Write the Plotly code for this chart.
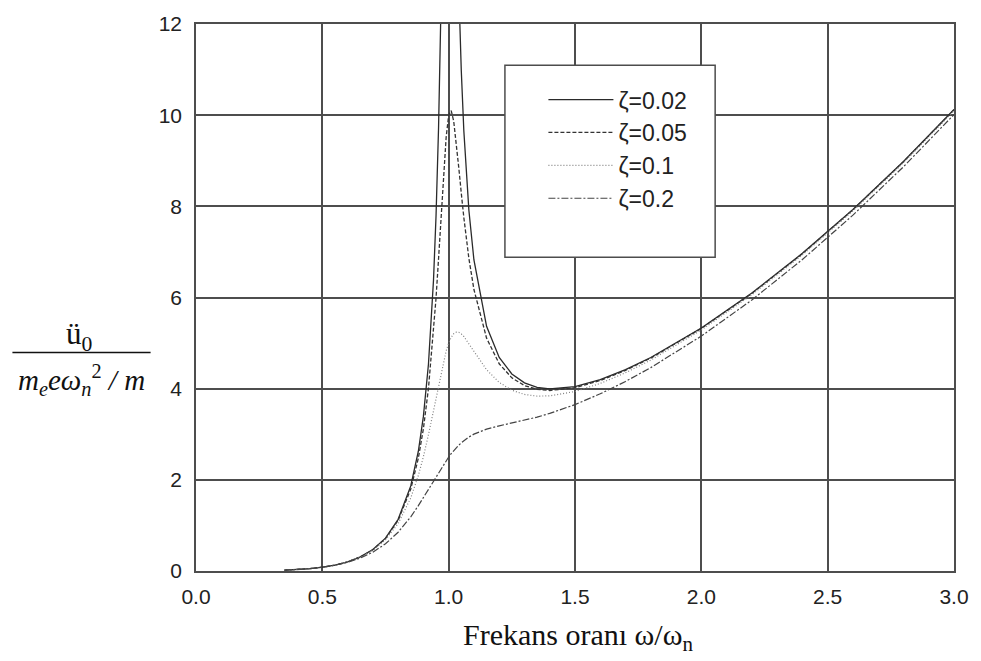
import plotly.graph_objects as go

# frequency ratio samples (x)
r_vals = [0.35, 0.40, 0.45, 0.50, 0.55, 0.60, 0.65, 0.70, 0.75, 0.80, 0.85, 0.88, 0.90,
          0.92, 0.94, 0.95, 0.96, 0.97, 0.98, 0.99, 1.00, 1.01, 1.02, 1.03, 1.04, 1.05,
          1.06, 1.08, 1.10, 1.15, 1.20, 1.25, 1.30, 1.35, 1.40, 1.50, 1.60, 1.70, 1.80,
          2.00, 2.20, 2.40, 2.60, 2.80, 3.00]

y_z002 = [0.0171, 0.0305, 0.0514, 0.0833, 0.1311, 0.2024, 0.3088, 0.4700, 0.7215, 1.133, 1.867, 2.627, 3.392,
          4.537, 6.383, 7.787, 9.729, 12.52, 16.55, 21.67, 25.0, 23.06, 18.85, 15.31, 12.77, 10.97,
          9.660, 7.914, 6.823, 5.369, 4.685, 4.323, 4.127, 4.030, 3.995, 4.045, 4.197, 4.416, 4.684,
          5.331, 6.099, 6.969, 7.932, 8.985, 10.124]

y_z005 = [0.0171, 0.0304, 0.0513, 0.0831, 0.1308, 0.2016, 0.3072, 0.4664, 0.7128, 1.111, 1.799, 2.476, 3.121,
          4.002, 5.218, 5.984, 6.855, 7.793, 8.727, 9.511, 10.0, 10.10, 9.867, 9.403, 8.850, 8.286,
          7.755, 6.857, 6.175, 5.108, 4.546, 4.237, 4.068, 3.985, 3.960, 4.021, 4.179, 4.401, 4.671,
          5.321, 6.090, 6.961, 7.926, 8.979, 10.118]

y_z01 = [0.0171, 0.0303, 0.0511, 0.0826, 0.1296, 0.1990, 0.3016, 0.4540, 0.6841, 1.040, 1.604, 2.096, 2.507,
         2.989, 3.531, 3.813, 4.095, 4.365, 4.612, 4.827, 5.0, 5.126, 5.204, 5.240, 5.237, 5.201,
         5.145, 4.989, 4.814, 4.415, 4.137, 3.966, 3.873, 3.837, 3.842, 3.938, 4.115, 4.349, 4.627,
         5.287, 6.061, 6.935, 7.901, 8.956, 10.097]

y_z02 = [0.0169, 0.0299, 0.0501, 0.0805, 0.1251, 0.1896, 0.2819, 0.4127, 0.5964, 0.8503, 1.189, 1.434, 1.612,
         1.797, 1.984, 2.076, 2.167, 2.256, 2.341, 2.423, 2.5, 2.573, 2.640, 2.702, 2.760, 2.812,
         2.858, 2.939, 3.003, 3.113, 3.184, 3.244, 3.306, 3.376, 3.457, 3.651, 3.887, 4.158, 4.462,
         5.153, 5.946, 6.833, 7.807, 8.868, 10.013]

series_names = ["ζ=0.02", "ζ=0.05", "ζ=0.1", "ζ=0.2"]
series_vals = [y_z002, y_z005, y_z01, y_z02]
x_ticks = [0.0, 0.5, 1.0, 1.5, 2.0, 2.5, 3.0]
x_tick_labels = ["0.0", "0.5", "1.0", "1.5", "2.0", "2.5", "3.0"]
y_ticks = [0, 2, 4, 6, 8, 10, 12]
y_tick_labels = ["0", "2", "4", "6", "8", "10", "12"]

styles = [
    dict(color="#2a2a2a", width=1.3, dash="solid"),
    dict(color="#333333", width=1.3, dash="4px,2px"),
    dict(color="#808080", width=1.2, dash="1px,2px"),
    dict(color="#444444", width=1.2, dash="7px,2px,2px,2px"),
]

fig = go.Figure()
for name, vals, st in zip(series_names, series_vals, styles):
    fig.add_trace(go.Scatter(x=r_vals, y=vals, mode="lines", name=name, line=st,
                             legendgroup=name))

W, H = 981, 661
L, R, T, B = 196, 17, 15, 90
pw, ph = W - L - R, H - T - B

def px_x(p):
    return (p - L) / pw

def px_y(p):
    return (H - B - p) / ph

grid = "#4d4d4d"
fig.update_layout(
    width=W, height=H,
    margin=dict(l=L, r=R, t=T, b=B),
    paper_bgcolor="white", plot_bgcolor="white",
    font=dict(family="Liberation Sans, Arial, sans-serif", size=21, color="#222222"),
    xaxis=dict(range=[0, 3], tickvals=x_ticks, ticktext=x_tick_labels,
               showgrid=True, gridcolor=grid, gridwidth=1.5,
               showline=True, linecolor=grid, linewidth=1.5, mirror=True,
               zeroline=False, ticks="", ticklabelstandoff=6,
               tickfont=dict(size=21)),
    yaxis=dict(range=[0, 12], tickvals=y_ticks, ticktext=y_tick_labels,
               showgrid=True, gridcolor=grid, gridwidth=1.5,
               showline=True, linecolor=grid, linewidth=1.5, mirror=True,
               zeroline=False, ticks="", ticklabelstandoff=8,
               tickfont=dict(size=21)),
    legend=dict(x=px_x(548), y=px_y(70), xanchor="left", yanchor="top",
                bgcolor="rgba(0,0,0,0)", borderwidth=0,
                font=dict(size=23, color="#222222"),
                itemwidth=65, traceorder="grouped", tracegroupgap=0),
    showlegend=True,
)

# legend frame (white box over the grid)
fig.add_shape(type="rect", xref="paper", yref="paper",
              x0=px_x(509), x1=px_x(722), y0=px_y(252), y1=px_y(57),
              line=dict(color=grid, width=1.5), fillcolor="white", layer="above")

serif = "Liberation Serif, Times New Roman, serif"
# x-axis title
fig.add_annotation(xref="paper", yref="paper", x=px_x(583), y=px_y(638),
                   xanchor="center", yanchor="middle", showarrow=False,
                   text="Frekans oranı ω/ω<sub>n</sub>",
                   font=dict(family=serif, size=30, color="#111111"))
# y-axis title as a fraction
fig.add_annotation(xref="paper", yref="paper", x=px_x(78), y=px_y(332),
                   xanchor="center", yanchor="middle", showarrow=False,
                   text="ü<sub>0</sub>",
                   font=dict(family=serif, size=31, color="#111111"))
fig.add_shape(type="line", xref="paper", yref="paper",
              x0=px_x(10), x1=px_x(150), y0=px_y(349), y1=px_y(349),
              line=dict(color="#111111", width=1.5))
fig.add_annotation(xref="paper", yref="paper", x=px_x(80), y=px_y(377),
                   xanchor="center", yanchor="middle", showarrow=False,
                   text="<i>m</i><sub><i>e</i></sub><i>eω</i><sub><i>n</i></sub><sup>2</sup><i> / m</i>",
                   font=dict(family=serif, size=29, color="#111111"))

fig.write_html("out.html")
